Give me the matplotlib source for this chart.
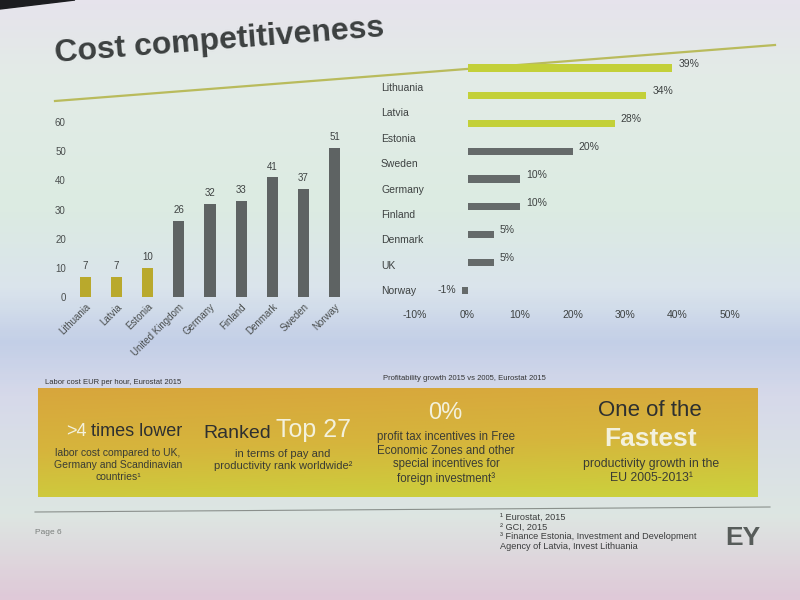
import numpy as np
import matplotlib.pyplot as plt
from matplotlib.colors import LinearSegmentedColormap

plt.rcParams['font.family'] = ['Liberation Sans', 'DejaVu Sans']

# labor cost, EUR per hour (left chart)
costCountries = ["Lithuania", "Latvia", "Estonia", "United Kingdom", "Germany",
                 "Finland", "Denmark", "Sweden", "Norway"]
costValues = [7, 7, 10, 26, 32, 33, 41, 37, 51]
costBaltic = [True, True, True, False, False, False, False, False, False]
costTicks = [0, 10, 20, 30, 40, 50, 60]

# profitability growth 2015 vs 2005 (right chart)
growthCountries = ["Lithuania", "Latvia", "Estonia", "Sweden", "Germany",
                   "Finland", "Denmark", "UK", "Norway"]
growthValues = [39, 34, 28, 20, 10, 10, 5, 5, -1]
growthBaltic = [True, True, True, False, False, False, False, False, False]
growthTicks = [-10, 0, 10, 20, 30, 40, 50]

W, H = 800, 600
fig = plt.figure(figsize=(8, 6), dpi=100)


def rect(x0, y0, x1, y1):
    # pixel box -> figure fraction
    return [x0 / W, 1 - y1 / H, (x1 - x0) / W, (y1 - y0) / H]


# pixel-space layer for background, banner and texts
px = fig.add_axes([0, 0, 1, 1])
px.set_xlim(0, W)
px.set_ylim(H, 0)
px.axis('off')

bgCmap = LinearSegmentedColormap.from_list("bg", [
    (0.00, "#e6e3ec"), (0.12, "#e3ebe7"), (0.35, "#dcebe2"),
    (0.48, "#dae4ec"), (0.57, "#c3cfe7"), (0.66, "#d6d9ea"),
    (0.86, "#dde6e2"), (1.00, "#dfc9d8")])
grad = np.linspace(0, 1, 300).reshape(-1, 1)
px.imshow(grad, cmap=bgCmap, extent=(0, W, H, 0), aspect='auto', zorder=0)
# dark corner of the photo
px.fill([0, 75, 0], [0, 0, 9], color="#1c1c20", zorder=1)

# title and the thin line under it (slide photographed at a slight angle)
px.text(55, 62, "Cost competitiveness", fontsize=23, fontweight='bold',
        color="#3c4040", rotation=4.5, rotation_mode='anchor', va='baseline')
px.plot([55, 775], [101, 45], color="#b9bb5c", lw=1.6, zorder=2)

# left chart
dark = "#3e4242"
axL = fig.add_axes(rect(70, 122, 350, 297))
axL.patch.set_alpha(0)
xs = np.arange(len(costCountries))
colsL = ["#b9a92c" if b else "#5e6363" for b in costBaltic]
axL.bar(xs, costValues, width=0.36, color=colsL)
for x, v in zip(xs, costValues):
    axL.text(x, v + 2, str(v), ha='center', va='bottom', fontsize=7, color=dark)
axL.set_xlim(-0.5, len(costCountries) - 0.5)
axL.set_ylim(0, 60)
axL.set_yticks(costTicks)
axL.set_xticks(xs)
axL.set_xticklabels(costCountries, rotation=45, ha='right', rotation_mode='anchor')
axL.tick_params(length=0, labelsize=7, labelcolor="#4a4e4e")
axL.tick_params(axis='y', pad=3)
for s in axL.spines.values():
    s.set_visible(False)
px.text(45, 383, "Labor cost EUR per hour, Eurostat 2015", fontsize=5.5,
        color="#333", va='center')

# right chart
axR = fig.add_axes(rect(415, 54, 730, 304))
axR.patch.set_alpha(0)
ys = np.arange(len(growthCountries))
colsR = ["#c3d039" if b else "#656a6a" for b in growthBaltic]
axR.barh(ys, growthValues, height=0.26, color=colsR)
for y, v in zip(ys, growthValues):
    if v >= 0:
        axR.text(v + 1.2, y - 0.15, f"{v}%", ha='left', va='center', fontsize=7.5, color=dark)
    else:
        axR.text(v - 1.2, y, f"{v}%", ha='right', va='center', fontsize=7.5, color=dark)
# country names sit a little lower than the bars at the top (camera angle)
for i, name in enumerate(growthCountries):
    px.text(381, 88 + i * 25.4, name, ha='left', va='center',
            fontsize=7.5, color=dark)
axR.set_xlim(-10, 50)
axR.set_ylim(len(growthCountries) - 0.5, -0.5)
axR.set_xticks(growthTicks)
axR.set_xticklabels([f"{t}%" for t in growthTicks])
axR.set_yticks([])
axR.tick_params(length=0, labelsize=7.5, labelcolor=dark, pad=4)
for s in axR.spines.values():
    s.set_visible(False)
px.text(383, 378, "Profitability growth 2015 vs 2005, Eurostat 2015", fontsize=5.5,
        color="#333", va='center')

# banner
banCmap = LinearSegmentedColormap.from_list("ban", ["#d8a63c", "#d6b53c", "#cbd23d"])
gy = np.linspace(0, 1, 100).reshape(-1, 1)
gx = np.linspace(0, 1, 200).reshape(1, -1)
px.imshow(0.85 * gy + 0.15 * gx, cmap=banCmap, extent=(38, 758, 497, 388),
          aspect='auto', zorder=1)
white = "#f3f1dc"
txt = "#2e3030"
sub = "#3a3c34"
px.text(87, 432, ">4", fontsize=13, color=white, ha='right', va='center')
px.text(91, 432, "times lower", fontsize=13, color=txt, ha='left', va='center')
px.text(118, 465, "labor cost compared to UK,\nGermany and Scandinavian\ncountries\u00b9",
        fontsize=7.5, color=sub, ha='center', va='center', linespacing=1.25)
px.text(271, 433, "Ranked", fontsize=14, color=txt, ha='right', va='center')
px.text(276, 430, "Top 27", fontsize=18, color=white, ha='left', va='center')
px.text(283, 460, "in terms of pay and\nproductivity rank worldwide\u00b2",
        fontsize=8, color=sub, ha='center', va='center', linespacing=1.25)
px.text(445, 413, "0%", fontsize=17, color=white, ha='center', va='center')
px.text(446, 458, "profit tax incentives in Free\nEconomic Zones and other\n"
        "special incentives for\nforeign investment\u00b3",
        fontsize=8.3, color=sub, ha='center', va='center', linespacing=1.2)
px.text(650, 410, "One of the", fontsize=16, color=txt, ha='center', va='center')
px.text(651, 439, "Fastest", fontsize=19, color=white, ha='center', va='center',
        fontweight='bold')
px.text(651, 471, "productivity growth in the\nEU 2005-2013\u00b9",
        fontsize=8.8, color=sub, ha='center', va='center', linespacing=1.24)

# footer
px.plot([35, 770], [512, 507], color="#8a908c", lw=0.8, zorder=2)
px.text(35, 532, "Page 6", fontsize=6, color="#7a7e7c", va='center')
px.text(500, 513, "\u00b9 Eurostat, 2015\n\u00b2 GCI, 2015\n"
        "\u00b3 Finance Estonia, Investment and Development\n"
        "Agency of Latvia, Invest Lithuania",
        fontsize=6.6, color="#3a3c3c", va='top', linespacing=1.08)
px.text(725, 538, "EY", fontsize=19, fontweight='bold', color="#575c5a", va='center')

fig.savefig("out.png", dpi=100)
